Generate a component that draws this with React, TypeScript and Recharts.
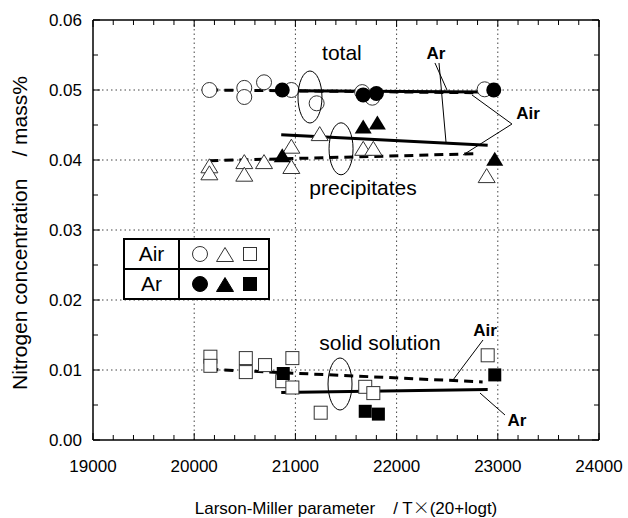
import React from 'react';
import {
  ScatterChart,
  Scatter,
  XAxis,
  YAxis,
  ReferenceLine,
  ReferenceDot,
  Legend,
  Label,
} from 'recharts';

const FONT = '"Liberation Sans", Arial, Helvetica, sans-serif';

// Axis ticks
const xMajorTicks = [19000, 20000, 21000, 22000, 23000, 24000];
const xTicks: number[] = [];
for (let v = 19000; v <= 24000; v += 200) xTicks.push(v);
const yTicks: number[] = [];
for (let i = 0; i <= 12; i++) yTicks.push(Math.round(i * 5) / 1000);
const xGrid = [20000, 21000, 22000, 23000];
const yGrid = [0.01, 0.02, 0.03, 0.04, 0.05];

// Total nitrogen
const totalAir = [
  { x: 20150, y: 0.05 },
  { x: 20495, y: 0.0503 },
  { x: 20495, y: 0.049 },
  { x: 20690, y: 0.0511 },
  { x: 20960, y: 0.05 },
  { x: 21210, y: 0.0481 },
  { x: 21660, y: 0.0497 },
  { x: 21760, y: 0.0489 },
  { x: 22870, y: 0.0501 },
];
const totalAr = [
  { x: 20870, y: 0.05 },
  { x: 21670, y: 0.0493 },
  { x: 21800, y: 0.0495 },
  { x: 22960, y: 0.05 },
];

// Nitrogen in precipitates
const precipAir = [
  { x: 20150, y: 0.0391 },
  { x: 20150, y: 0.0381 },
  { x: 20495, y: 0.0397 },
  { x: 20495, y: 0.0379 },
  { x: 20690, y: 0.0397 },
  { x: 20960, y: 0.0419 },
  { x: 20960, y: 0.039 },
  { x: 21240, y: 0.0437 },
  { x: 21670, y: 0.0416 },
  { x: 21770, y: 0.0416 },
  { x: 22890, y: 0.0377 },
];
const precipAr = [
  { x: 20870, y: 0.0406 },
  { x: 21670, y: 0.0447 },
  { x: 21810, y: 0.0453 },
  { x: 22970, y: 0.0401 },
];

// Nitrogen in solid solution
const solidAir = [
  { x: 20160, y: 0.0119 },
  { x: 20160, y: 0.0106 },
  { x: 20510, y: 0.0117 },
  { x: 20510, y: 0.0097 },
  { x: 20700, y: 0.0107 },
  { x: 20870, y: 0.0084 },
  { x: 20970, y: 0.0117 },
  { x: 20970, y: 0.0075 },
  { x: 21250, y: 0.0039 },
  { x: 21690, y: 0.0076 },
  { x: 21770, y: 0.0067 },
  { x: 22900, y: 0.0121 },
];
const solidAr = [
  { x: 20880, y: 0.0095 },
  { x: 21690, y: 0.0041 },
  { x: 21820, y: 0.0037 },
  { x: 22970, y: 0.0093 },
];

// Trend lines (end points)
const totalAirTrend = [
  { x: 20150, y: 0.05 },
  { x: 22870, y: 0.0496 },
];
const totalArTrend = [
  { x: 20980, y: 0.0499 },
  { x: 22840, y: 0.0497 },
];
const precipAirTrend = [
  { x: 20150, y: 0.0399 },
  { x: 22810, y: 0.0409 },
];
const precipArTrend = [
  { x: 20860, y: 0.0436 },
  { x: 22900, y: 0.0421 },
];
const solidAirTrend = [
  { x: 20150, y: 0.0101 },
  { x: 22850, y: 0.0083 },
];
const solidArTrend = [
  { x: 20860, y: 0.0068 },
  { x: 22900, y: 0.0072 },
];

// Group rings around the three data families
const groupRings = [
  { x: 21144, y: 0.049 },
  { x: 21451, y: 0.0416 },
  { x: 21441, y: 0.008 },
];

// Plain annotation labels
const groupLabels = [
  { x: 21460, y: 0.0554, text: 'total' },
  { x: 21668, y: 0.036, text: 'precipitates' },
  { x: 21836, y: 0.01386, text: 'solid solution' },
];
// Bold atmosphere labels
const atmosLabels = [
  { x: 22389, y: 0.0553, text: 'Ar' },
  { x: 23298, y: 0.0467, text: 'Air' },
  { x: 22874, y: 0.0157, text: 'Air' },
  { x: 23190, y: 0.0029, text: 'Ar' },
];
// Leader lines from the atmosphere labels to the trend lines
const leaders = [
  [{ x: 22379, y: 0.05386 }, { x: 22498, y: 0.05 }],
  [{ x: 22419, y: 0.05386 }, { x: 22488, y: 0.04257 }],
  [{ x: 23140, y: 0.04514 }, { x: 22745, y: 0.04929 }],
  [{ x: 23140, y: 0.04514 }, { x: 22656, y: 0.04071 }],
  [{ x: 22854, y: 0.01429 }, { x: 22557, y: 0.00857 }],
  [{ x: 23071, y: 0.00357 }, { x: 22824, y: 0.00671 }],
];

const OPEN_STROKE = '#333';

const OpenCircle = (p: any) => (
  <circle cx={p.cx} cy={p.cy} r={7.5} fill="#fff" stroke={OPEN_STROKE} strokeWidth={1} />
);
const FilledCircle = (p: any) => <circle cx={p.cx} cy={p.cy} r={7.5} fill="#000" />;
const triPoints = (cx: number, cy: number) =>
  `${cx},${cy - 7.5} ${cx + 8.5},${cy + 6.5} ${cx - 8.5},${cy + 6.5}`;
const OpenTriangle = (p: any) => (
  <polygon points={triPoints(p.cx, p.cy)} fill="#fff" stroke={OPEN_STROKE} strokeWidth={1} />
);
const FilledTriangle = (p: any) => <polygon points={triPoints(p.cx, p.cy)} fill="#000" />;
const OpenSquare = (p: any) => (
  <rect x={p.cx - 6.5} y={p.cy - 6.5} width={13} height={13} fill="#fff" stroke={OPEN_STROKE} strokeWidth={1} />
);
const FilledSquare = (p: any) => (
  <rect x={p.cx - 6.5} y={p.cy - 6.5} width={13} height={13} fill="#000" />
);
const NoPoint = () => <g />;

const isMajorX = (v: number) => xMajorTicks.includes(v);
const isMajorY = (v: number) => Math.round(v * 1000) % 10 === 0;

const BottomTick = (p: any) => {
  const v = p.payload.value;
  const major = isMajorX(v);
  return (
    <g>
      <line x1={p.x} x2={p.x} y1={p.y} y2={p.y - (major ? 7 : 5)} stroke="#000" strokeWidth={1} />
      {major && (
        <text x={p.x} y={p.y + 32} textAnchor="middle" fontFamily={FONT} fontSize={17} fill="#000">
          {v}
        </text>
      )}
    </g>
  );
};
const TopTick = (p: any) => {
  const major = isMajorX(p.payload.value);
  return <line x1={p.x} x2={p.x} y1={p.y} y2={p.y + (major ? 7 : 5)} stroke="#000" strokeWidth={1} />;
};
const LeftTick = (p: any) => {
  const v = p.payload.value;
  const major = isMajorY(v);
  return (
    <g>
      <line x1={p.x} x2={p.x + (major ? 7 : 5)} y1={p.y} y2={p.y} stroke="#000" strokeWidth={1} />
      {major && (
        <text x={p.x - 11} y={p.y + 6} textAnchor="end" fontFamily={FONT} fontSize={17} fill="#000">
          {v.toFixed(2)}
        </text>
      )}
    </g>
  );
};
const RightTick = (p: any) => {
  const major = isMajorY(p.payload.value);
  return <line x1={p.x} x2={p.x - (major ? 7 : 5)} y1={p.y} y2={p.y} stroke="#000" strokeWidth={1} />;
};

const YTitle = (p: any) => {
  const vb = p.viewBox;
  const cx = vb.x + 27;
  const cy = vb.y + vb.height / 2 + 3;
  return (
    <text
      x={cx}
      y={cy}
      transform={`rotate(-90, ${cx}, ${cy})`}
      textAnchor="middle"
      fontFamily={FONT}
      fontSize={21}
      fill="#000"
    >
      <tspan>Nitrogen concentration</tspan>
      <tspan dx={22}>/ mass%</tspan>
    </text>
  );
};

const XTitle = (p: any) => {
  const vb = p.viewBox;
  return (
    <text
      x={vb.x + vb.width / 2}
      y={vb.y + 74}
      textAnchor="middle"
      fontFamily={FONT}
      fontSize={17}
      fill="#000"
    >
      <tspan>Larson-Miller parameter</tspan>
      <tspan dx={18}>/ T</tspan>
      <tspan fontFamily='"Noto Sans CJK JP", sans-serif' fontWeight={300}>×</tspan>
      <tspan>(20+logt)</tspan>
    </text>
  );
};

const Ring = (p: any) => (
  <ellipse cx={p.cx} cy={p.cy} rx={12} ry={26} fill="none" stroke="#000" strokeWidth={1} />
);
const makeText = (text: string, bold: boolean) => (p: any) => (
  <text
    x={p.cx}
    y={p.cy}
    dy="0.35em"
    textAnchor="middle"
    fontFamily={FONT}
    fontSize={bold ? 17 : 21}
    fontWeight={bold ? 'bold' : 'normal'}
    fill="#000"
  >
    {text}
  </text>
);

const symbolSvg = (filled: boolean) => {
  const fill = filled ? '#000' : '#fff';
  const stroke = filled ? '#000' : OPEN_STROKE;
  return (
    <svg width={88} height={28}>
      <circle cx={20} cy={14} r={7.5} fill={fill} stroke={stroke} strokeWidth={1} />
      <polygon points={triPoints(45, 15)} fill={fill} stroke={stroke} strokeWidth={1} />
      <rect x={63.5} y={7.5} width={13} height={13} fill={fill} stroke={stroke} strokeWidth={1} />
    </svg>
  );
};

const cellBase: React.CSSProperties = {
  display: 'flex',
  alignItems: 'center',
  justifyContent: 'center',
  boxSizing: 'border-box',
};

const LegendTable = () => (
  <div
    style={{
      width: 147,
      height: 62,
      border: '2px solid #000',
      boxSizing: 'border-box',
      display: 'grid',
      gridTemplateColumns: '55px 88px',
      gridTemplateRows: '30px 28px',
      fontFamily: FONT,
      fontSize: 21,
      background: '#fff',
      color: '#000',
    }}
  >
    <div style={{ ...cellBase, borderRight: '2px solid #000', borderBottom: '2px solid #000' }}>Air</div>
    <div style={{ ...cellBase, borderBottom: '2px solid #000' }}>{symbolSvg(false)}</div>
    <div style={{ ...cellBase, borderRight: '2px solid #000' }}>Ar</div>
    <div style={cellBase}>{symbolSvg(true)}</div>
  </div>
);

export default function App() {
  return (
    <div style={{ position: 'absolute', left: 0, top: 0, background: '#fff' }}>
      <ScatterChart width={628} height={518} margin={{ top: 19, right: 28, bottom: 0, left: 0 }}>
        <XAxis
          type="number"
          dataKey="x"
          domain={[19000, 24000]}
          ticks={xTicks}
          interval={0}
          tickSize={0}
          tickMargin={0}
          tickLine={false}
          tick={(p: any) => <BottomTick {...p} />}
          axisLine={{ stroke: '#000', strokeWidth: 1.5 }}
          height={78}
          allowDataOverflow
        >
          <Label content={(p: any) => <XTitle {...p} />} />
        </XAxis>
        <XAxis
          xAxisId="top"
          orientation="top"
          type="number"
          dataKey="x"
          domain={[19000, 24000]}
          ticks={xTicks}
          interval={0}
          tickSize={0}
          tickMargin={0}
          tickLine={false}
          tick={(p: any) => <TopTick {...p} />}
          axisLine={{ stroke: '#000', strokeWidth: 1.5 }}
          height={1}
          allowDataOverflow
        />
        <YAxis
          type="number"
          dataKey="y"
          domain={[0, 0.06]}
          ticks={yTicks}
          interval={0}
          tickSize={0}
          tickMargin={0}
          tickLine={false}
          tick={(p: any) => <LeftTick {...p} />}
          axisLine={{ stroke: '#000', strokeWidth: 1.5 }}
          width={93}
          allowDataOverflow
        >
          <Label content={(p: any) => <YTitle {...p} />} />
        </YAxis>
        <YAxis
          yAxisId="right"
          orientation="right"
          type="number"
          dataKey="y"
          domain={[0, 0.06]}
          ticks={yTicks}
          interval={0}
          tickSize={0}
          tickMargin={0}
          tickLine={false}
          tick={(p: any) => <RightTick {...p} />}
          axisLine={{ stroke: '#000', strokeWidth: 1.5 }}
          width={1}
          allowDataOverflow
        />

        {xGrid.map((v) => (
          <ReferenceLine key={`gx${v}`} x={v} stroke="#444" strokeWidth={1} strokeDasharray="1.5 3" />
        ))}
        {yGrid.map((v) => (
          <ReferenceLine key={`gy${v}`} y={v} stroke="#444" strokeWidth={1} strokeDasharray="1.5 3" />
        ))}

        <Legend
          layout="vertical"
          align="center"
          verticalAlign="middle"
          content={() => <LegendTable />}
          wrapperStyle={{ left: 123, top: 238, width: 147, height: 62 }}
        />

        {/* trend lines */}
        <Scatter data={totalAirTrend} shape={NoPoint} line={{ stroke: '#000', strokeWidth: 3, strokeDasharray: '9 6' }} isAnimationActive={false} />
        <Scatter data={totalArTrend} shape={NoPoint} line={{ stroke: '#000', strokeWidth: 3 }} isAnimationActive={false} />
        <Scatter data={precipAirTrend} shape={NoPoint} line={{ stroke: '#000', strokeWidth: 3, strokeDasharray: '9 6' }} isAnimationActive={false} />
        <Scatter data={precipArTrend} shape={NoPoint} line={{ stroke: '#000', strokeWidth: 3 }} isAnimationActive={false} />
        <Scatter data={solidAirTrend} shape={NoPoint} line={{ stroke: '#000', strokeWidth: 3, strokeDasharray: '9 6' }} isAnimationActive={false} />
        <Scatter data={solidArTrend} shape={NoPoint} line={{ stroke: '#000', strokeWidth: 3 }} isAnimationActive={false} />

        {/* measured points: air (open) then argon (filled) */}
        <Scatter data={totalAir} shape={OpenCircle} isAnimationActive={false} />
        <Scatter data={precipAir} shape={OpenTriangle} isAnimationActive={false} />
        <Scatter data={solidAir} shape={OpenSquare} isAnimationActive={false} />
        <Scatter data={totalAr} shape={FilledCircle} isAnimationActive={false} />
        <Scatter data={precipAr} shape={FilledTriangle} isAnimationActive={false} />
        <Scatter data={solidAr} shape={FilledSquare} isAnimationActive={false} />

        {/* annotations */}
        {groupRings.map((r, i) => (
          <ReferenceDot key={`ring${i}`} x={r.x} y={r.y} shape={Ring} />
        ))}
        {leaders.map((seg, i) => (
          <ReferenceLine key={`ld${i}`} segment={seg} stroke="#000" strokeWidth={1} />
        ))}
        {groupLabels.map((l, i) => (
          <ReferenceDot key={`gl${i}`} x={l.x} y={l.y} shape={makeText(l.text, false)} />
        ))}
        {atmosLabels.map((l, i) => (
          <ReferenceDot key={`al${i}`} x={l.x} y={l.y} shape={makeText(l.text, true)} />
        ))}
      </ScatterChart>
    </div>
  );
}
